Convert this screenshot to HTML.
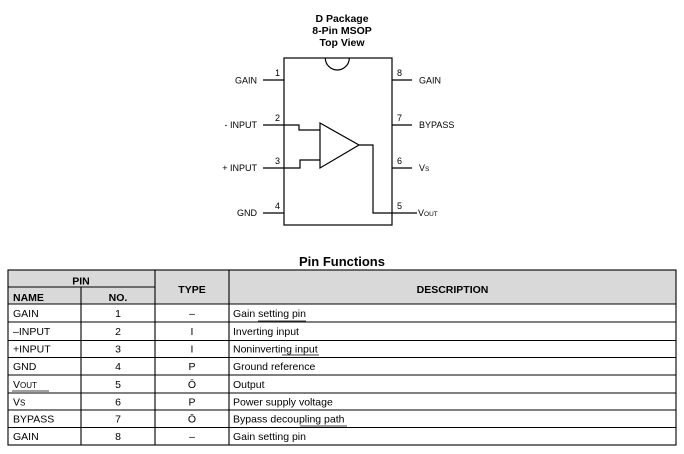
<!DOCTYPE html>
<html><head><meta charset="utf-8"><style>
html,body{margin:0;padding:0;background:#fff;}
svg{display:block;}
text{font-family:"Liberation Sans",Arial,sans-serif;fill:#000;}
.b{font-weight:bold;}
.d{font-size:9px;}
.t{font-size:10.5px;}
</style></head><body>
<svg width="684" height="454" viewBox="0 0 684 454" xmlns="http://www.w3.org/2000/svg">
<!-- Title -->
<text class="b" x="342" y="22" font-size="10.5" text-anchor="middle">D Package</text>
<text class="b" x="342" y="34" font-size="10.5" text-anchor="middle">8-Pin MSOP</text>
<text class="b" x="342" y="46" font-size="10.5" text-anchor="middle">Top View</text>

<g stroke="#000" stroke-width="1.2" fill="none">
  <!-- body -->
  <rect x="284" y="58" width="108" height="167"/>
  <path d="M325.3 58 A12 12 0 0 0 349.3 58"/>
  <!-- left pins -->
  <line x1="263" y1="80" x2="284" y2="80"/>
  <line x1="263" y1="125" x2="284" y2="125"/>
  <line x1="263" y1="168" x2="284" y2="168"/>
  <line x1="263" y1="213" x2="284" y2="213"/>
  <!-- right pins -->
  <line x1="392" y1="80" x2="412" y2="80"/>
  <line x1="392" y1="125" x2="412" y2="125"/>
  <line x1="392" y1="168" x2="412" y2="168"/>
  <!-- op-amp -->
  <path d="M320 123 L320 168 L359 145 Z"/>
  <path d="M284 125 L299 125 L299 130 L320 130"/>
  <path d="M284 168 L300 168 L300 160 L320 160"/>
  <path d="M359 145 L373 145 L373 213 L417 213"/>
</g>

<!-- pin numbers -->
<g class="d">
<text x="280" y="76" text-anchor="end">1</text>
<text x="280" y="121" text-anchor="end">2</text>
<text x="280" y="164" text-anchor="end">3</text>
<text x="280" y="209" text-anchor="end">4</text>
<text x="397" y="76">8</text>
<text x="397" y="121">7</text>
<text x="397" y="164">6</text>
<text x="397" y="209">5</text>
<!-- labels -->
<text x="257" y="83.5" text-anchor="end">GAIN</text>
<text x="257" y="128" text-anchor="end">- INPUT</text>
<text x="257" y="171" text-anchor="end">+ INPUT</text>
<text x="257" y="216" text-anchor="end">GND</text>
<text x="419" y="83.5">GAIN</text>
<text x="419" y="128">BYPASS</text>
<text x="419" y="171">V<tspan font-size="6.5">S</tspan></text>
<text x="418" y="216">V<tspan font-size="6.5">OUT</tspan></text>
</g>

<!-- Pin Functions title -->
<text class="b" x="342" y="266" font-size="13" text-anchor="middle">Pin Functions</text>

<!-- table header bg -->
<rect x="8" y="270" width="668" height="34" fill="#d9d9d9"/>

<g stroke="#000" stroke-width="1.1" fill="none">
  <rect x="8" y="270" width="668" height="175"/>
  <line x1="8" y1="287" x2="155" y2="287"/>
  <line x1="8" y1="304" x2="676" y2="304"/>
  <line x1="8" y1="322" x2="676" y2="322"/>
  <line x1="8" y1="340.5" x2="676" y2="340.5"/>
  <line x1="8" y1="357.5" x2="676" y2="357.5"/>
  <line x1="8" y1="375" x2="676" y2="375"/>
  <line x1="8" y1="393" x2="676" y2="393"/>
  <line x1="8" y1="410" x2="676" y2="410"/>
  <line x1="8" y1="427.5" x2="676" y2="427.5"/>
  <line x1="81" y1="287" x2="81" y2="445"/>
  <line x1="155" y1="270" x2="155" y2="445"/>
  <line x1="229" y1="270" x2="229" y2="445"/>
  <!-- small stray underlines -->
  <line x1="258" y1="321" x2="306" y2="321" stroke-width="0.8"/>
  <line x1="282" y1="355" x2="319" y2="355" stroke-width="0.8"/>
  <line x1="12" y1="391" x2="49" y2="391" stroke-width="0.8"/>
  <line x1="300" y1="426" x2="347" y2="426" stroke-width="0.8"/>
</g>

<g class="t">
<text class="b" x="81" y="284.5" text-anchor="middle">PIN</text>
<text class="b" x="13" y="301">NAME</text>
<text class="b" x="118" y="301" text-anchor="middle">NO.</text>
<text class="b" x="192" y="293" text-anchor="middle">TYPE</text>
<text class="b" x="452.5" y="293" text-anchor="middle">DESCRIPTION</text>

<text x="13" y="317">GAIN</text>
<text x="118" y="317" text-anchor="middle">1</text>
<text x="192" y="317" text-anchor="middle">–</text>
<text x="233" y="317">Gain setting pin</text>

<text x="13" y="335">–INPUT</text>
<text x="118" y="335" text-anchor="middle">2</text>
<text x="192" y="335" text-anchor="middle">I</text>
<text x="233" y="335">Inverting input</text>

<text x="13" y="352.5">+INPUT</text>
<text x="118" y="352.5" text-anchor="middle">3</text>
<text x="192" y="352.5" text-anchor="middle">I</text>
<text x="233" y="352.5">Noninverting input</text>

<text x="13" y="370">GND</text>
<text x="118" y="370" text-anchor="middle">4</text>
<text x="192" y="370" text-anchor="middle">P</text>
<text x="233" y="370">Ground reference</text>

<text x="13" y="388">V<tspan font-size="8">OUT</tspan></text>
<text x="118" y="388" text-anchor="middle">5</text>
<text x="192" y="388" text-anchor="middle">Ō</text>
<text x="233" y="388">Output</text>

<text x="13" y="405.5">V<tspan font-size="8">S</tspan></text>
<text x="118" y="405.5" text-anchor="middle">6</text>
<text x="192" y="405.5" text-anchor="middle">P</text>
<text x="233" y="405.5">Power supply voltage</text>

<text x="13" y="422.5">BYPASS</text>
<text x="118" y="422.5" text-anchor="middle">7</text>
<text x="192" y="422.5" text-anchor="middle">Ō</text>
<text x="233" y="422.5">Bypass decoupling path</text>

<text x="13" y="440">GAIN</text>
<text x="118" y="440" text-anchor="middle">8</text>
<text x="192" y="440" text-anchor="middle">–</text>
<text x="233" y="440">Gain setting pin</text>
</g>
</svg>
</body></html>
